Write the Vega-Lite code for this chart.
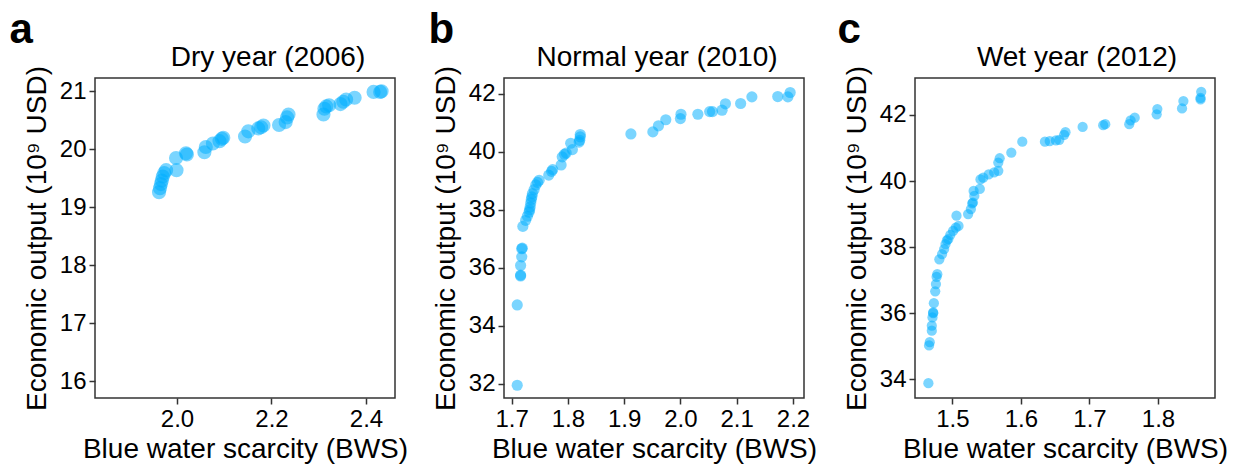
{
  "$schema": "https://vega.github.io/schema/vega-lite/v6.json",
  "background": "white",
  "padding": {"left": 9, "top": 8, "right": 5, "bottom": 5},
  "config": {
    "font": "Liberation Sans",
    "view": {"stroke": "#333333", "strokeWidth": 1.5},
    "axis": {
      "grid": false,
      "domain": false,
      "tickColor": "#333333",
      "tickWidth": 1.5,
      "tickSize": 6,
      "labelFont": "Liberation Sans",
      "labelFontSize": 24,
      "labelColor": "black",
      "labelPadding": 3,
      "titleFont": "Liberation Sans",
      "titleFontSize": 28,
      "titleFontWeight": "normal",
      "titleColor": "black"
    },
    "axisX": {"titlePadding": 4},
    "axisY": {"titlePadding": 8},
    "title": {"font": "Liberation Sans", "color": "black"},
    "concat": {"spacing": 19}
  },
  "datasets": {
    "dry": [
      {"bws": 1.962, "output": 19.26}, {"bws": 1.964, "output": 19.33}, {"bws": 1.966, "output": 19.40},
      {"bws": 1.968, "output": 19.46}, {"bws": 1.970, "output": 19.53}, {"bws": 1.973, "output": 19.59},
      {"bws": 1.977, "output": 19.64}, {"bws": 1.999, "output": 19.64}, {"bws": 1.998, "output": 19.85},
      {"bws": 2.019, "output": 19.93}, {"bws": 2.021, "output": 19.91}, {"bws": 2.058, "output": 19.95},
      {"bws": 2.061, "output": 20.04}, {"bws": 2.076, "output": 20.10}, {"bws": 2.090, "output": 20.14},
      {"bws": 2.095, "output": 20.18}, {"bws": 2.098, "output": 20.20}, {"bws": 2.144, "output": 20.22},
      {"bws": 2.151, "output": 20.31}, {"bws": 2.172, "output": 20.36}, {"bws": 2.178, "output": 20.38},
      {"bws": 2.183, "output": 20.41}, {"bws": 2.216, "output": 20.42}, {"bws": 2.230, "output": 20.47},
      {"bws": 2.233, "output": 20.55}, {"bws": 2.236, "output": 20.60}, {"bws": 2.310, "output": 20.60},
      {"bws": 2.312, "output": 20.70}, {"bws": 2.316, "output": 20.74}, {"bws": 2.322, "output": 20.76},
      {"bws": 2.346, "output": 20.78}, {"bws": 2.352, "output": 20.82}, {"bws": 2.358, "output": 20.86},
      {"bws": 2.376, "output": 20.89}, {"bws": 2.416, "output": 20.99}, {"bws": 2.430, "output": 20.99},
      {"bws": 2.433, "output": 21.00}
    ],
    "normal": [
      {"bws": 1.710, "output": 31.95}, {"bws": 1.710, "output": 34.72}, {"bws": 1.716, "output": 35.72},
      {"bws": 1.716, "output": 35.75}, {"bws": 1.716, "output": 36.08}, {"bws": 1.718, "output": 36.38},
      {"bws": 1.718, "output": 36.66}, {"bws": 1.719, "output": 36.68}, {"bws": 1.720, "output": 37.43},
      {"bws": 1.725, "output": 37.64}, {"bws": 1.728, "output": 37.78}, {"bws": 1.731, "output": 37.92},
      {"bws": 1.732, "output": 38.00}, {"bws": 1.733, "output": 38.10}, {"bws": 1.734, "output": 38.24},
      {"bws": 1.735, "output": 38.36}, {"bws": 1.736, "output": 38.45}, {"bws": 1.737, "output": 38.56},
      {"bws": 1.740, "output": 38.70}, {"bws": 1.743, "output": 38.86}, {"bws": 1.746, "output": 38.95},
      {"bws": 1.749, "output": 39.02}, {"bws": 1.766, "output": 39.20}, {"bws": 1.771, "output": 39.33},
      {"bws": 1.773, "output": 39.39}, {"bws": 1.788, "output": 39.55}, {"bws": 1.790, "output": 39.83},
      {"bws": 1.794, "output": 39.92}, {"bws": 1.797, "output": 39.96}, {"bws": 1.808, "output": 40.08},
      {"bws": 1.805, "output": 40.30}, {"bws": 1.820, "output": 40.34}, {"bws": 1.821, "output": 40.40},
      {"bws": 1.822, "output": 40.52}, {"bws": 1.822, "output": 40.60}, {"bws": 1.912, "output": 40.62},
      {"bws": 1.951, "output": 40.69}, {"bws": 1.961, "output": 40.90}, {"bws": 1.974, "output": 41.11},
      {"bws": 2.000, "output": 41.15}, {"bws": 2.001, "output": 41.30}, {"bws": 2.031, "output": 41.30},
      {"bws": 2.052, "output": 41.39}, {"bws": 2.057, "output": 41.39}, {"bws": 2.074, "output": 41.44},
      {"bws": 2.080, "output": 41.66}, {"bws": 2.107, "output": 41.67}, {"bws": 2.127, "output": 41.90},
      {"bws": 2.173, "output": 41.91}, {"bws": 2.191, "output": 41.90}, {"bws": 2.195, "output": 42.05}
    ],
    "wet": [
      {"bws": 1.465, "output": 33.88}, {"bws": 1.466, "output": 35.02}, {"bws": 1.467, "output": 35.12},
      {"bws": 1.470, "output": 35.47}, {"bws": 1.470, "output": 35.62}, {"bws": 1.471, "output": 35.87},
      {"bws": 1.472, "output": 36.02}, {"bws": 1.472, "output": 36.00}, {"bws": 1.473, "output": 36.30},
      {"bws": 1.475, "output": 36.66}, {"bws": 1.476, "output": 36.88}, {"bws": 1.477, "output": 37.10},
      {"bws": 1.478, "output": 37.18}, {"bws": 1.481, "output": 37.63}, {"bws": 1.485, "output": 37.79},
      {"bws": 1.488, "output": 37.94}, {"bws": 1.490, "output": 38.09}, {"bws": 1.492, "output": 38.20},
      {"bws": 1.494, "output": 38.24}, {"bws": 1.497, "output": 38.37}, {"bws": 1.501, "output": 38.49},
      {"bws": 1.505, "output": 38.59}, {"bws": 1.509, "output": 38.64}, {"bws": 1.506, "output": 38.95},
      {"bws": 1.523, "output": 39.00}, {"bws": 1.527, "output": 39.15}, {"bws": 1.529, "output": 39.32},
      {"bws": 1.530, "output": 39.35}, {"bws": 1.532, "output": 39.55}, {"bws": 1.531, "output": 39.70},
      {"bws": 1.540, "output": 39.76}, {"bws": 1.541, "output": 40.05}, {"bws": 1.545, "output": 40.10},
      {"bws": 1.553, "output": 40.20}, {"bws": 1.561, "output": 40.26}, {"bws": 1.567, "output": 40.31},
      {"bws": 1.567, "output": 40.56}, {"bws": 1.569, "output": 40.69}, {"bws": 1.586, "output": 40.86},
      {"bws": 1.602, "output": 41.19}, {"bws": 1.635, "output": 41.19}, {"bws": 1.642, "output": 41.21},
      {"bws": 1.651, "output": 41.23}, {"bws": 1.656, "output": 41.25}, {"bws": 1.663, "output": 41.40},
      {"bws": 1.665, "output": 41.48}, {"bws": 1.690, "output": 41.64}, {"bws": 1.720, "output": 41.69},
      {"bws": 1.723, "output": 41.72}, {"bws": 1.758, "output": 41.72}, {"bws": 1.760, "output": 41.84},
      {"bws": 1.766, "output": 41.92}, {"bws": 1.798, "output": 42.02}, {"bws": 1.799, "output": 42.18},
      {"bws": 1.835, "output": 42.20}, {"bws": 1.837, "output": 42.42}, {"bws": 1.862, "output": 42.47},
      {"bws": 1.862, "output": 42.52}, {"bws": 1.863, "output": 42.70}
    ]
  },
  "hconcat": [
    {
      "title": {"text": "a", "anchor": "start", "frame": "bounds", "fontSize": 42, "fontWeight": "bold", "dx": -13, "offset": -8},
      "vconcat": [
        {
          "width": 300, "height": 320,
          "title": {"text": "Dry year (2006)", "anchor": "middle", "frame": "group", "fontSize": 28, "fontWeight": "normal", "dx": 23, "offset": -7},
          "data": {"name": "dry"},
          "mark": {"type": "circle", "size": 200, "color": "#00AEFF", "opacity": 0.52},
          "encoding": {
            "x": {"field": "bws", "type": "quantitative", "scale": {"domain": [1.8265, 2.4614], "nice": false, "zero": false},
                  "axis": {"values": [2.0, 2.2, 2.4], "format": ".1f", "title": "Blue water scarcity (BWS)"}},
            "y": {"field": "output", "type": "quantitative", "scale": {"domain": [15.71, 21.23], "nice": false, "zero": false},
                  "axis": {"values": [16, 17, 18, 19, 20, 21], "format": "d", "title": "Economic output (10⁹ USD)"}}
          }
        }
      ]
    },
    {
      "title": {"text": "b", "anchor": "start", "frame": "bounds", "fontSize": 42, "fontWeight": "bold", "dx": -3, "offset": -8},
      "vconcat": [
        {
          "width": 300, "height": 320,
          "title": {"text": "Normal year (2010)", "anchor": "middle", "frame": "group", "fontSize": 28, "fontWeight": "normal", "dx": 3, "offset": -7},
          "data": {"name": "normal"},
          "mark": {"type": "circle", "size": 125, "color": "#00AEFF", "opacity": 0.52},
          "encoding": {
            "x": {"field": "bws", "type": "quantitative", "scale": {"domain": [1.6865, 2.2196], "nice": false, "zero": false},
                  "axis": {"values": [1.7, 1.8, 1.9, 2.0, 2.1, 2.2], "format": ".1f", "title": "Blue water scarcity (BWS)"}},
            "y": {"field": "output", "type": "quantitative", "scale": {"domain": [31.51, 42.55], "nice": false, "zero": false},
                  "axis": {"values": [32, 34, 36, 38, 40, 42], "format": "d", "title": "Economic output (10⁹ USD)"}}
          }
        }
      ]
    },
    {
      "title": {"text": "c", "anchor": "start", "frame": "bounds", "fontSize": 42, "fontWeight": "bold", "dx": -5, "offset": -8},
      "vconcat": [
        {
          "width": 300, "height": 320,
          "title": {"text": "Wet year (2012)", "anchor": "middle", "frame": "group", "fontSize": 28, "fontWeight": "normal", "dx": 12, "offset": -7},
          "data": {"name": "wet"},
          "mark": {"type": "circle", "size": 105, "color": "#00AEFF", "opacity": 0.52},
          "encoding": {
            "x": {"field": "bws", "type": "quantitative", "scale": {"domain": [1.4455, 1.8831], "nice": false, "zero": false},
                  "axis": {"values": [1.5, 1.6, 1.7, 1.8], "format": ".1f", "title": "Blue water scarcity (BWS)"}},
            "y": {"field": "output", "type": "quantitative", "scale": {"domain": [33.43, 43.12], "nice": false, "zero": false},
                  "axis": {"values": [34, 36, 38, 40, 42], "format": "d", "title": "Economic output (10⁹ USD)"}}
          }
        }
      ]
    }
  ]
}
